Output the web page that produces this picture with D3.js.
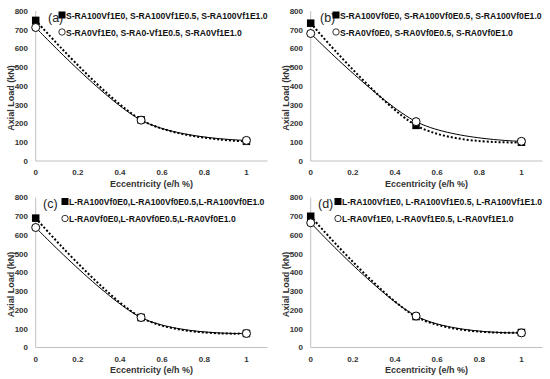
<!DOCTYPE html>
<html><head><meta charset="utf-8">
<script src="https://cdn.jsdelivr.net/npm/d3@7"></script>
<style>body{margin:0;background:#fff}svg{display:block}text{font-family:"Liberation Sans",Arial,sans-serif}</style>
</head><body><svg id="c" width="550" height="379"></svg>
<script>
const eccentricity = [0, 0.5, 1];
const xTicks = [0, 0.2, 0.4, 0.6, 0.8, 1];
const xTickLabels = ["0", "0.2", "0.4", "0.6", "0.8", "1"];
const yTicks = [0, 100, 200, 300, 400, 500, 600, 700, 800];
const panelLabels = ["(a)", "(b)", "(c)", "(d)"];
const legendRA100 = ["S-RA100Vf1E0, S-RA100Vf1E0.5, S-RA100Vf1E1.0", "S-RA100Vf0E0, S-RA100Vf0E0.5, S-RA100Vf0E1.0", "L-RA100Vf0E0,L-RA100Vf0E0.5,L-RA100Vf0E1.0", "L-RA100Vf1E0, L-RA100Vf1E0.5, L-RA100Vf1E1.0"];
const legendRA0 = ["S-RA0Vf1E0, S-RA0-Vf1E0.5, S-RA0Vf1E1.0", "S-RA0Vf0E0, S-RA0Vf0E0.5, S-RA0Vf0E1.0", "L-RA0Vf0E0,L-RA0Vf0E0.5,L-RA0Vf0E1.0", "L-RA0Vf1E0, L-RA0Vf1E0.5, L-RA0Vf1E1.0"];
const loadRA100 = [[750, 220, 105], [735, 190, 100], [690, 160, 75], [700, 165, 80]];
const loadRA0 = [[712, 218, 110], [680, 210, 105], [640, 160, 75], [665, 168, 78]];
const xTitle = "Eccentricity (e/h %)";
const yTitle = "Axial Load (kN)";

const svg = d3.select("#c");
const panels = [
  {ox: 0, oy: 0, lab: 48, leg: 62},
  {ox: 275, oy: 0, lab: 45, leg: 61},
  {ox: 0, oy: 186.5, lab: 43, leg: 65},
  {ox: 275, oy: 186.5, lab: 43, leg: 63}
];
panels.forEach((p, i) => {
  const g = svg.append("g").attr("transform", `translate(${p.ox},${p.oy})`);
  const x = d3.scaleLinear().domain([0, 1.1]).range([35.7, 267.5]);
  const y = d3.scaleLinear().domain([0, 800]).range([161, 11]);
  g.append("line").attr("x1", x(0)).attr("x2", x(1.1)).attr("y1", y(0)).attr("y2", y(0)).attr("stroke", "#c0c0c0").attr("stroke-width", 1);
  g.append("line").attr("x1", x(0)).attr("x2", x(0)).attr("y1", y(0)).attr("y2", y(800)).attr("stroke", "#c0c0c0").attr("stroke-width", 1);
  g.selectAll(".yt").data(yTicks).join("text").attr("x", 28).attr("y", d => y(d)).attr("dy", "0.35em")
    .attr("text-anchor", "end").attr("font-size", 8).attr("font-weight", "bold").attr("fill", "#333").text(d => d);
  g.selectAll(".xt").data(xTicks).join("text").attr("x", d => x(d)).attr("y", y(0) + 14)
    .attr("text-anchor", "middle").attr("font-size", 8).attr("font-weight", "bold").attr("fill", "#333").text((d, j) => xTickLabels[j]);
  g.append("text").attr("x", (x(0) + x(1.1)) / 2).attr("y", y(0) + 25.5).attr("text-anchor", "middle")
    .attr("font-size", 9).attr("font-weight", "bold").attr("fill", "#333").text(xTitle);
  g.append("text").attr("transform", `translate(13.5,${(y(0) + y(800)) / 2 + 12}) rotate(-90)`).attr("text-anchor", "middle")
    .attr("font-size", 9).attr("font-weight", "bold").attr("fill", "#333").text(yTitle);

  const line = d3.line().x((d, j) => x(eccentricity[j])).y(d => y(d)).curve(d3.curveCardinal.tension(0));
  g.append("path").attr("d", line(loadRA100[i])).attr("fill", "none").attr("stroke", "#000").attr("stroke-width", 2).attr("stroke-dasharray", "2,2");
  g.append("path").attr("d", line(loadRA0[i])).attr("fill", "none").attr("stroke", "#000").attr("stroke-width", 1);
  g.selectAll(".sq").data(loadRA100[i]).join("rect").attr("x", (d, j) => x(eccentricity[j]) - 3.75).attr("y", d => y(d) - 3.75)
    .attr("width", 7.5).attr("height", 7.5).attr("fill", "#000");
  g.selectAll(".ci").data(loadRA0[i]).join("circle").attr("cx", (d, j) => x(eccentricity[j])).attr("cy", d => y(d))
    .attr("r", 4).attr("fill", "#fff").attr("stroke", "#000").attr("stroke-width", 1);

  g.append("text").attr("x", p.lab).attr("y", 21.5).attr("font-size", 12.5).attr("fill", "#222").text(panelLabels[i]);
  g.append("rect").attr("x", p.leg - 3.5).attr("y", 11.5).attr("width", 7).attr("height", 7).attr("fill", "#000");
  g.append("text").attr("x", p.leg + 4).attr("y", 18.5).attr("font-size", 8.6).attr("font-weight", "bold").attr("fill", "#111").text(legendRA100[i]);
  g.append("circle").attr("cx", p.leg).attr("cy", 32).attr("r", 3.2).attr("fill", "#fff").attr("stroke", "#000").attr("stroke-width", 0.8);
  g.append("text").attr("x", p.leg + 4).attr("y", 35.5).attr("font-size", 8.6).attr("font-weight", "bold").attr("fill", "#111").text(legendRA0[i]);
});
</script></body></html>
